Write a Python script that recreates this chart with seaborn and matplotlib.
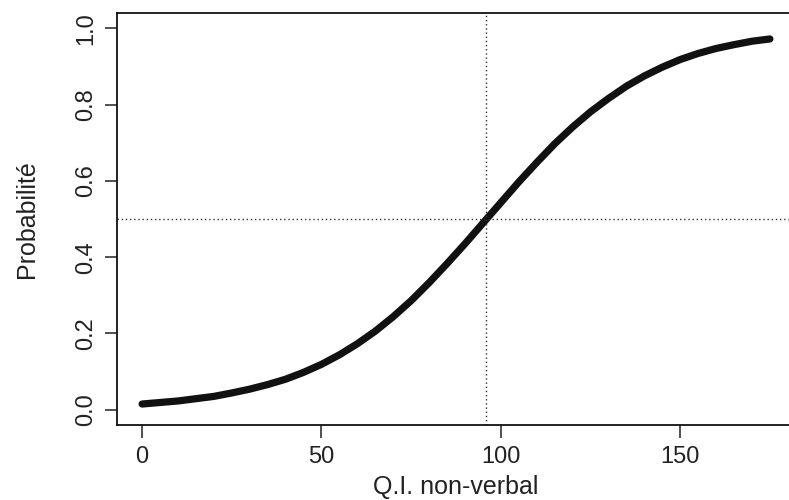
import matplotlib
matplotlib.use("Agg")
import matplotlib.pyplot as plt
import seaborn as sns
import pandas as pd

# Data
qi = [0, 5, 10, 15, 20, 25, 30, 35, 40, 45, 50, 55, 60, 65, 70, 75, 80, 85,
      90, 95, 100, 105, 110, 115, 120, 125, 130, 135, 140, 145, 150, 155,
      160, 165, 170, 175]
prob = [0.015, 0.019, 0.023, 0.029, 0.035, 0.044, 0.054, 0.066, 0.080, 0.098,
        0.119, 0.144, 0.173, 0.206, 0.244, 0.286, 0.333, 0.383, 0.435, 0.489,
        0.543, 0.597, 0.648, 0.697, 0.741, 0.781, 0.816, 0.848, 0.875, 0.898,
        0.918, 0.934, 0.947, 0.957, 0.966, 0.972]
x_mark = 96
y_mark = 0.5
x_ticks = [0, 50, 100, 150]
y_ticks = [0.0, 0.2, 0.4, 0.6, 0.8, 1.0]
x_label = "Q.I. non-verbal"
y_label = "Probabilité"

df = pd.DataFrame({"qi": qi, "prob": prob})

sns.set_style("ticks")
plt.rcParams["font.family"] = ["Liberation Sans", "DejaVu Sans"]

fig = plt.figure(figsize=(7.89, 5.0), dpi=100)
ax = fig.add_axes([117 / 789, 75 / 500, 678 / 789, 412 / 500])

sns.lineplot(data=df, x="qi", y="prob", ax=ax, color="#111111",
             linewidth=5.2, solid_capstyle="round")

ax.axvline(x_mark, color="#333333", linestyle=(0, (1, 2)), linewidth=1.0)
ax.axhline(y_mark, color="#333333", linestyle=(0, (1, 2)), linewidth=1.0)

ax.set_xlim(-7, 182)
ax.set_ylim(-0.04, 1.04)
ax.set_xticks(x_ticks)
ax.set_xticklabels([str(t) for t in x_ticks])
ax.set_yticks(y_ticks)
ax.set_yticklabels([f"{t:.1f}" for t in y_ticks], rotation=90, va="center")

ax.tick_params(axis="both", direction="out", length=9, width=1.2,
               color="#333333", labelsize=17, pad=5, labelcolor="#222222")
ax.tick_params(axis="x", pad=6)
ax.set_xlabel(x_label, fontsize=18, labelpad=5, color="#222222")
ax.set_ylabel(y_label, fontsize=18, labelpad=26, color="#222222")

for s in ax.spines.values():
    s.set_color("#111111")
    s.set_linewidth(1.3)

fig.savefig("out.png", dpi=100)
